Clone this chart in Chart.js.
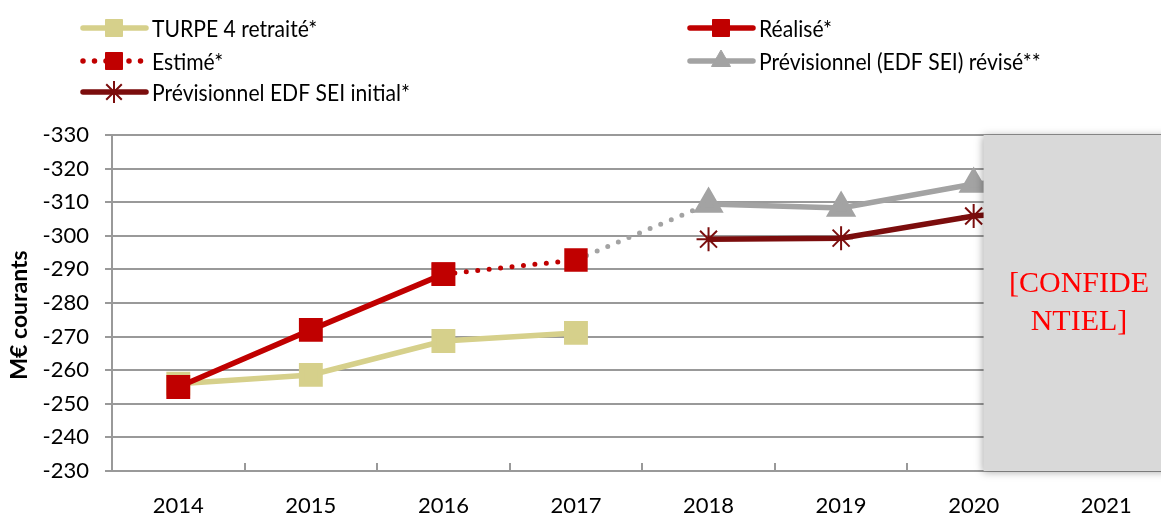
<!DOCTYPE html>
<html>
<head>
<meta charset="utf-8">
<script src="https://cdn.jsdelivr.net/npm/chart.js@4.4.0/dist/chart.umd.min.js"></script>
<style>
  html, body { margin: 0; padding: 0; background: #fff; overflow: hidden; }
  #wrap { width: 1191px; height: 515px; }
</style>
</head>
<body>
<div id="wrap"><canvas id="chart" width="1191" height="515"></canvas></div>
<script>
// data
var years = ['2014', '2015', '2016', '2017', '2018', '2019', '2020', '2021'];
var turpe = [-256, -258.6, -268.7, -271.1, null, null, null, null];
var realise = [-255, -272, -288.6, null, null, null, null, null];
var estime = [null, null, -288.6, -292.8, null, null, null, null];
var estimeLink = [null, null, null, -292.8, -309.5, null, null, null];
var revise = [null, null, null, null, -309.5, -308.3, -315.4, -318];
var initial = [null, null, null, null, -299, -299.3, -305.9, -309];
var yTicks = [-330, -320, -310, -300, -290, -280, -270, -260, -250, -240, -230];

var TAN = '#d6d08b', RED = '#c00000', DARK = '#7b0d0d', GREY = '#a3a3a3';
var FONT = 'Lato, "Open Sans", sans-serif';

var legendItems = [
    { label: 'TURPE 4 retraité*', color: TAN, dash: null, style: 'rect', r: 12, x: 83, y: 28 },
    { label: 'Réalisé*', color: RED, dash: null, style: 'rect', r: 12, x: 690, y: 28 },
    { label: 'Estimé*', color: RED, dash: [0, 11.5], style: 'rect', r: 12, x: 83, y: 61 },
    { label: 'Prévisionnel (EDF SEI) révisé**', color: GREY, dash: null, style: 'triangle', r: 11, x: 690, y: 61 },
    { label: 'Prévisionnel EDF SEI initial*', color: DARK, dash: null, style: 'star', r: 11, x: 83, y: 92 }
];

var overlay = {
    id: 'overlay',
    afterDatasetsDraw: function(chart) {
        var ctx = chart.ctx;
        var xs = chart.scales.x, ys = chart.scales.y;
        var step = xs.getPixelForValue(1) - xs.getPixelForValue(0);
        var top = ys.getPixelForValue(-330);
        var bottom = ys.getPixelForValue(-230);

        // small x tick marks pointing up into the plot
        ctx.save();
        ctx.strokeStyle = '#999';
        ctx.lineWidth = 2;
        for (var i = 1; i < years.length; i++) {
            var tx = Math.round(xs.getPixelForValue(i) - step / 2);
            ctx.beginPath();
            ctx.moveTo(tx, bottom);
            ctx.lineTo(tx, bottom - 8);
            ctx.stroke();
        }
        ctx.restore();

        // confidential mask
        var left = xs.getPixelForValue(6) + step * 0.075;
        ctx.save();
        ctx.shadowColor = 'rgba(0,0,0,0.35)';
        ctx.shadowBlur = 8;
        ctx.shadowOffsetX = -1;
        ctx.shadowOffsetY = 1;
        ctx.fillStyle = '#d9d9d9';
        ctx.fillRect(left, top, chart.width - left + 20, bottom - top);
        ctx.restore();
        ctx.save();
        ctx.fillStyle = '#ff0000';
        ctx.font = '30px "Liberation Serif", serif';
        ctx.textAlign = 'center';
        ctx.textBaseline = 'middle';
        ctx.fillText('[CONFIDE', 1079, 284);
        ctx.fillText('NTIEL]', 1079, 322);
        ctx.restore();
    },
    afterDraw: function(chart) {
        var ctx = chart.ctx;
        legendItems.forEach(function(it) {
            ctx.save();
            ctx.strokeStyle = it.color;
            ctx.lineWidth = 5.5;
            ctx.lineCap = 'round';
            if (it.dash) ctx.setLineDash(it.dash);
            ctx.beginPath();
            ctx.moveTo(it.x, it.y);
            ctx.lineTo(it.x + 63, it.y);
            ctx.stroke();
            ctx.restore();
            ctx.save();
            ctx.fillStyle = it.color;
            ctx.strokeStyle = it.color;
            ctx.lineWidth = it.style === 'star' ? 2 : 1;
            Chart.helpers.drawPoint(ctx, { pointStyle: it.style, radius: it.r, rotation: 0, borderWidth: ctx.lineWidth }, it.x + 31, it.y);
            ctx.restore();
            ctx.save();
            ctx.fillStyle = '#000';
            ctx.font = '24px ' + FONT;
            ctx.textBaseline = 'middle';
            ctx.translate(it.x + 69, it.y + 1);
            ctx.scale(0.88, 1);
            ctx.fillText(it.label, 0, 0);
            ctx.restore();
        });

        // y axis title
        ctx.save();
        ctx.fillStyle = '#000';
        ctx.font = 'bold 23px ' + FONT;
        ctx.textAlign = 'center';
        ctx.textBaseline = 'middle';
        ctx.translate(20, 315);
        ctx.rotate(-Math.PI / 2);
        ctx.fillText('M€ courants', 0, 0);
        ctx.restore();
    }
};

function line(label, data, color, extra) {
    var ds = {
        label: label, data: data,
        borderColor: color, backgroundColor: color,
        borderWidth: 5.5, pointRadius: 13, pointHoverRadius: 13,
        pointStyle: 'rect', pointBorderColor: color, pointBackgroundColor: color,
        tension: 0, spanGaps: false
    };
    for (var k in extra) ds[k] = extra[k];
    return ds;
}

new Chart(document.getElementById('chart'), {
    type: 'line',
    data: {
        labels: years,
        datasets: [
            line('Réalisé*', realise, RED, { order: 1 }),
            line('Estimé*', estime, RED, { order: 2, borderDash: [0, 11.5], borderCapStyle: 'round', borderWidth: 5 }),
            line('TURPE 4 retraité*', turpe, TAN, { order: 3 }),
            line('', estimeLink, GREY, { order: 4, borderDash: [0, 11.5], borderCapStyle: 'round', borderWidth: 5, pointRadius: 0 }),
            line('Prévisionnel (EDF SEI) révisé**', revise, GREY, { order: 5, pointStyle: 'triangle', pointRadius: 12 }),
            line('Prévisionnel EDF SEI initial*', initial, DARK, { order: 4, pointStyle: 'star', pointRadius: 12, pointBorderWidth: 2 })
        ]
    },
    options: {
        responsive: false,
        animation: false,
        layout: { padding: { top: 135, right: 3, left: 0, bottom: 0 } },
        plugins: { legend: { display: false }, tooltip: { enabled: false } },
        scales: {
            x: {
                offset: true,
                grid: { offset: true, drawOnChartArea: false, drawTicks: false },
                border: { display: false },
                ticks: { color: '#000', font: { family: FONT, size: 22 }, padding: 22, maxRotation: 0 },
                afterFit: function(s) { s.height = 44; }
            },
            y: {
                reverse: true,
                min: -330, max: -230,
                afterBuildTicks: function(s) { s.ticks = yTicks.map(function(v) { return { value: v }; }); },
                grid: { color: '#999', lineWidth: 2, tickLength: 7 },
                border: { color: '#999', width: 2 },
                ticks: { color: '#000', font: { family: FONT, size: 22 }, padding: 16 },
                afterFit: function(s) { s.width = 112; }
            }
        }
    },
    plugins: [overlay]
});
</script>
</body>
</html>
